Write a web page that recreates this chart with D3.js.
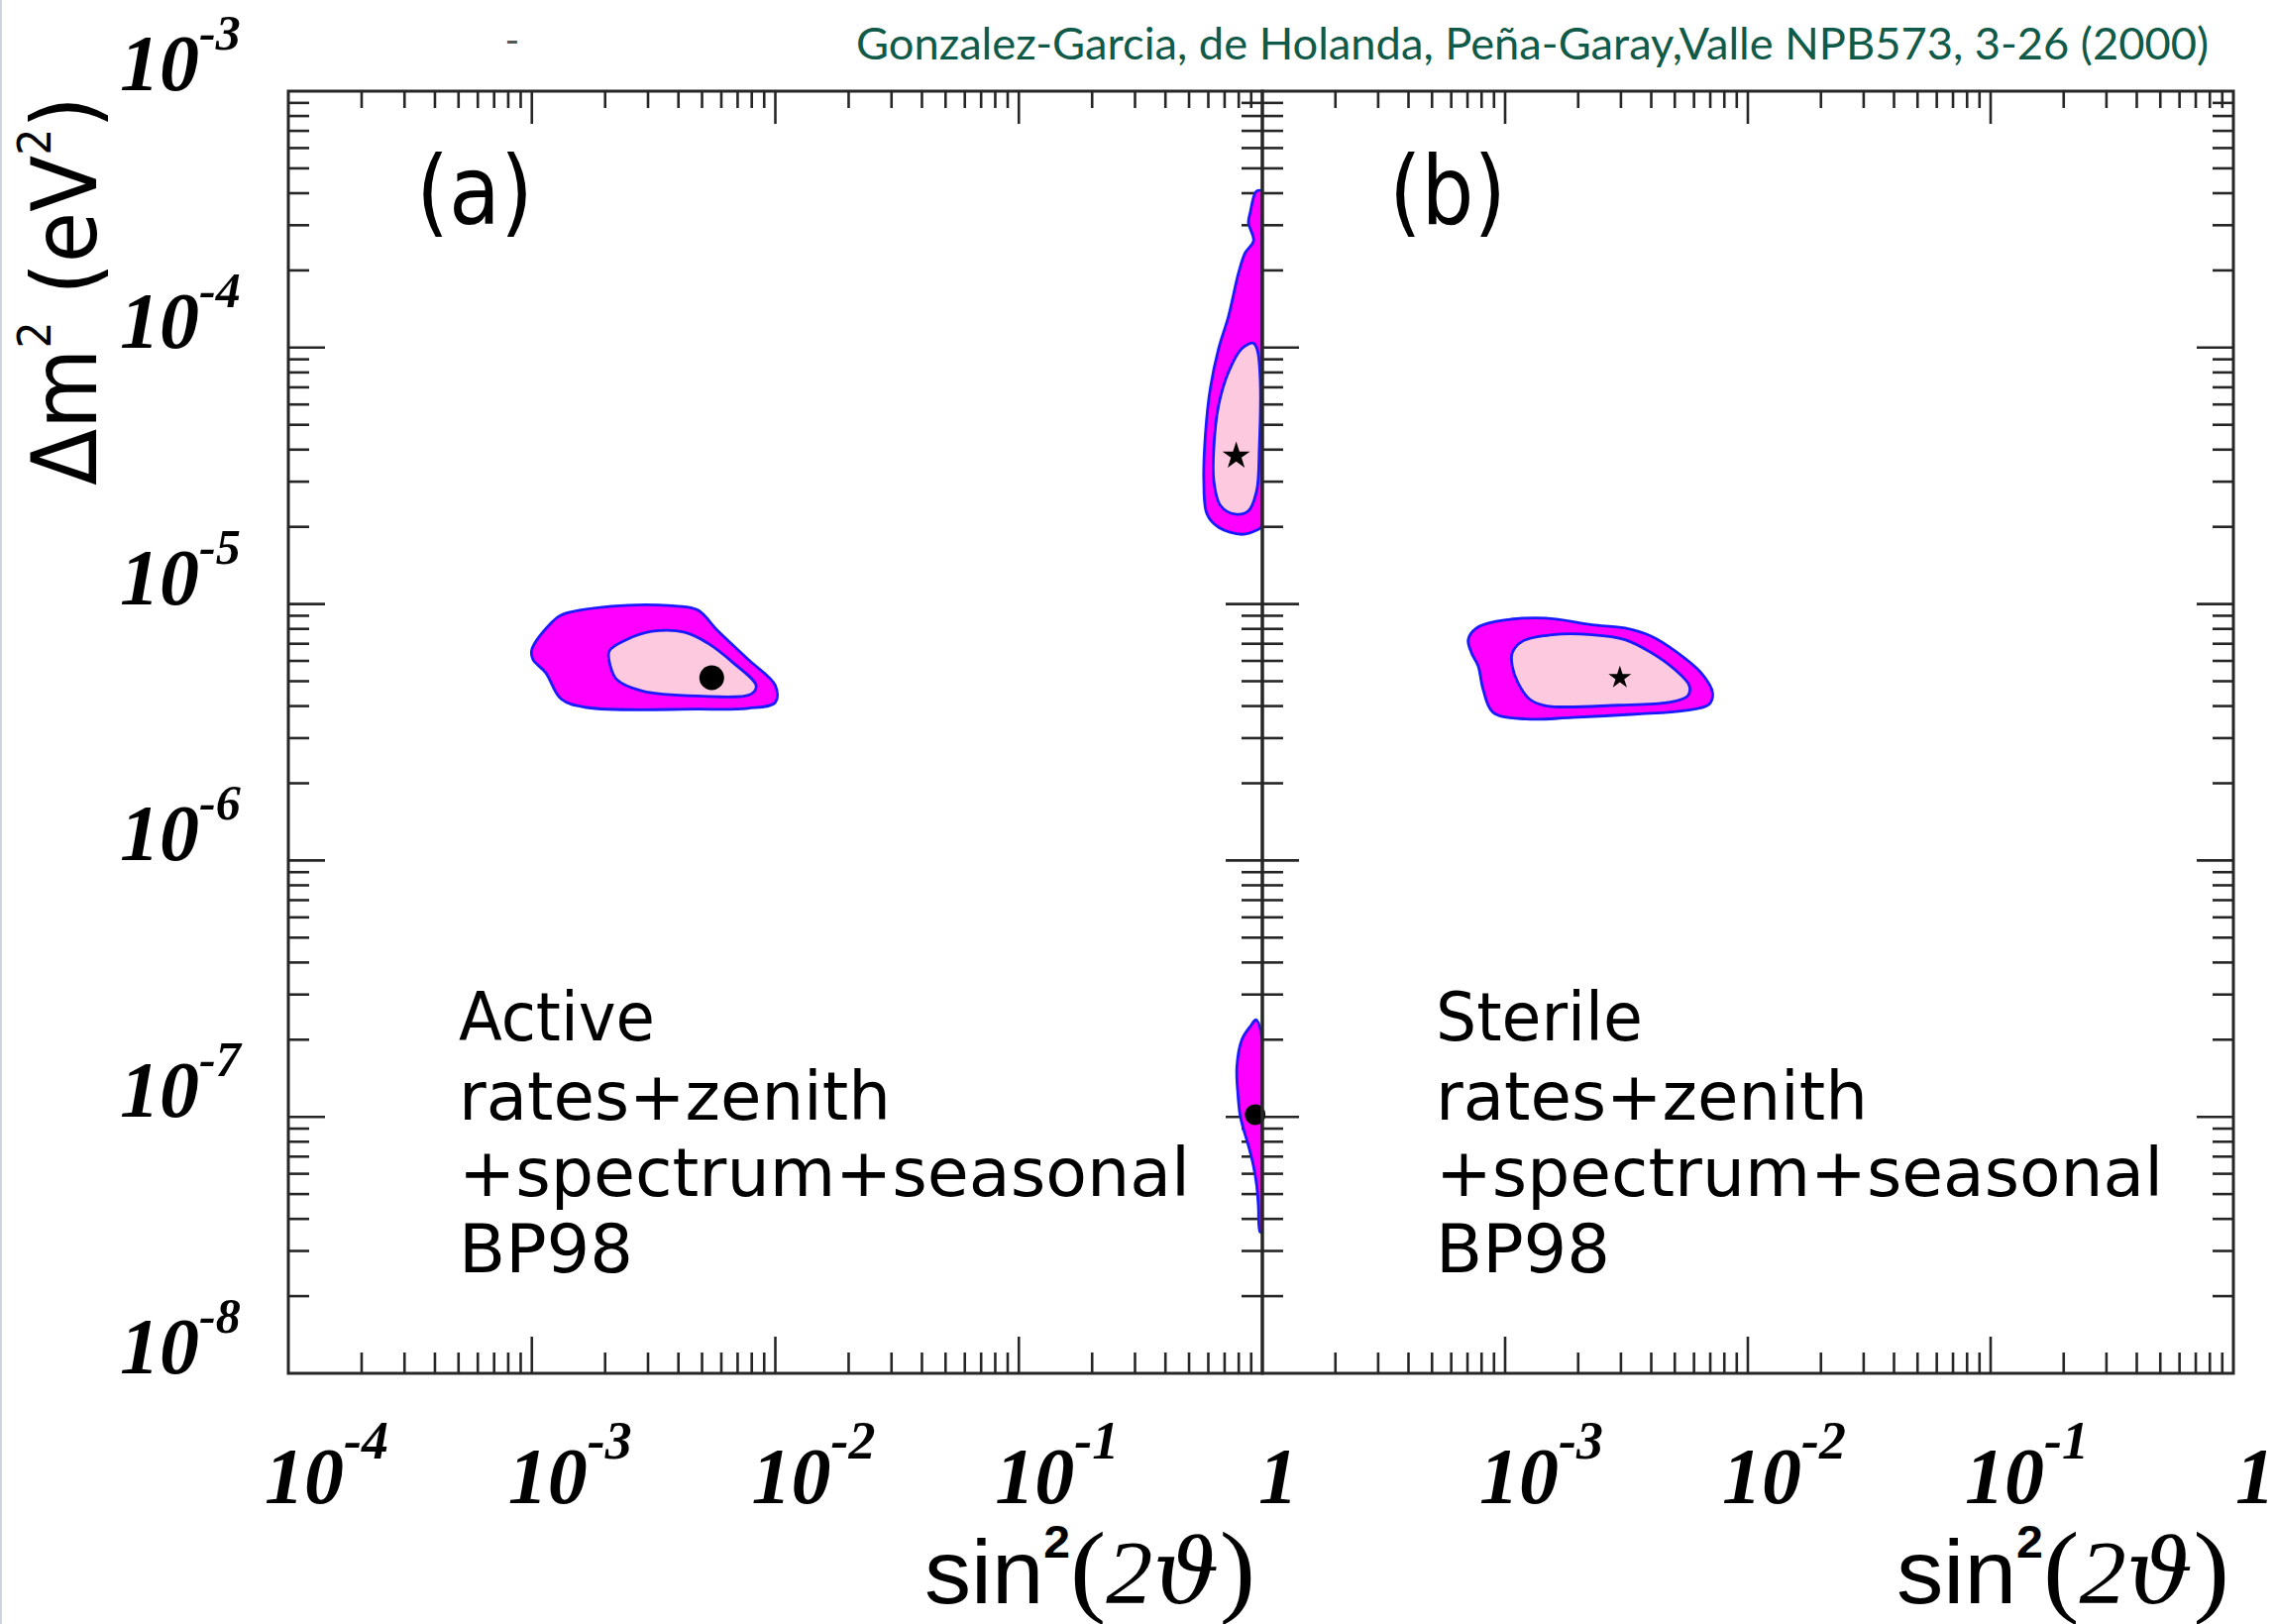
<!DOCTYPE html>
<html><head><meta charset="utf-8">
<script src="https://cdn.jsdelivr.net/npm/d3@7"></script>
<style>html,body{margin:0;padding:0;background:#fff;} svg{display:block}</style>
</head><body>
<script>
// ---------------- DATA ----------------
const panels = ["a", "b"];
const panelTags = ["(a)", "(b)"];
const legendActive = ["Active", "rates+zenith", "+spectrum+seasonal", "BP98"];
const legendSterile = ["Sterile", "rates+zenith", "+spectrum+seasonal", "BP98"];
const header = "Gonzalez-Garcia, de Holanda, Peña-Garay,Valle NPB573, 3-26 (2000)";

const xDomain = [1e-4, 1];
const yDomain = [1e-8, 1e-3];
// tick labels : [value, base, exponent]
const xTickLabelsA = [[1e-4, "10", "-4"], [1e-3, "10", "-3"], [1e-2, "10", "-2"], [1e-1, "10", "-1"], [1, "1", ""]];
const xTickLabelsB = [[1e-3, "10", "-3"], [1e-2, "10", "-2"], [1e-1, "10", "-1"], [1, "1", ""]];
const yTickLabels = [[1e-3, "10", "-3"], [1e-4, "10", "-4"], [1e-5, "10", "-5"], [1e-6, "10", "-6"], [1e-7, "10", "-7"], [1e-8, "10", "-8"]];

// allowed regions [sin^2(2theta), dm^2]
// (a) active, small-mixing solution
const smaActiveOuter = [[1.00e-3,6.64e-6],[1.20e-3,8.43e-6],[1.32e-3,9.06e-6],[2.12e-3,9.80e-6],[3.78e-3,9.84e-6],[4.79e-3,9.48e-6],[5.81e-3,7.85e-6],[7.73e-3,6.08e-6],[1.00e-2,4.81e-6],[1.00e-2,4.13e-6],[7.73e-3,3.92e-6],[4.79e-3,3.89e-6],[1.68e-3,3.95e-6],[1.32e-3,4.26e-6],[1.14e-3,5.40e-6],[1.01e-3,6.08e-6]];
const smaActiveInner = [[2.08e-3,6.55e-6],[2.45e-3,7.26e-6],[3.11e-3,7.82e-6],[4.25e-3,7.76e-6],[5.26e-3,7.05e-6],[6.71e-3,5.90e-6],[8.34e-3,4.80e-6],[7.93e-3,4.45e-6],[4.79e-3,4.38e-6],[2.84e-3,4.58e-6],[2.23e-3,5.08e-6],[2.10e-3,5.74e-6]];
const smaActiveBest = [5.48e-3, 5.16e-6];
// (a) active, large-mixing solution
const lmaOuter = [[1.0,4.07e-4],[0.945,4.07e-4],[0.891,3.35e-4],[0.877,3.07e-4],[0.92,2.61e-4],[0.850,2.34e-4],[0.799,1.96e-4],[0.727,1.33e-4],[0.662,9.95e-5],[0.612,6.97e-5],[0.585,4.72e-5],[0.575,3.02e-5],[0.593,2.24e-5],[0.662,1.99e-5],[0.824,1.87e-5],[0.948,1.94e-5],[1.0,2.02e-5],[1.0,3.0e-5],[1.0,1.0e-4],[1.0,3.0e-4]];
const lmaInner = [[0.919,1.04e-4],[0.824,9.92e-5],[0.727,8.05e-5],[0.662,5.98e-5],[0.632,4.07e-5],[0.632,3.02e-5],[0.673,2.42e-5],[0.774,2.24e-5],[0.877,2.31e-5],[0.948,2.77e-5],[0.972,4.07e-5],[0.981,7.36e-5],[0.954,9.77e-5]];
const lmaBest = [0.781, 3.78e-5];
// (a) active, low-dm^2 solution
const lowOuter = [[0.943,2.39e-7],[0.891,2.25e-7],[0.824,2.00e-7],[0.786,1.57e-7],[0.793,1.24e-7],[0.811,1.01e-7],[0.837,8.95e-8],[0.877,7.71e-8],[0.919,6.45e-8],[0.948,5.41e-8],[0.963,4.52e-8],[0.979,3.56e-8],[1.0,3.56e-8],[1.0,1.0e-7],[1.0,2.0e-7]];
const lowBest = [0.934, 1.02e-7];
// (b) sterile, small-mixing solution
const smaSterileOuter = [[7.05e-4,7.26e-6],[7.62e-4,8.05e-6],[9.19e-4,8.55e-6],[1.47e-3,8.81e-6],[2.28e-3,8.30e-6],[3.12e-3,8.05e-6],[4.01e-3,7.48e-6],[5.14e-3,6.45e-6],[6.41e-3,5.40e-6],[7.15e-3,4.52e-6],[6.93e-3,4.07e-6],[5.48e-3,3.84e-6],[3.43e-3,3.72e-6],[1.89e-3,3.61e-6],[1.22e-3,3.56e-6],[8.91e-4,3.78e-6],[8.11e-4,4.66e-6],[7.75e-4,5.73e-6],[7.27e-4,6.45e-6]];
const smaSterileInner = [[1.07e-3,6.45e-6],[1.18e-3,7.16e-6],[1.57e-3,7.59e-6],[2.28e-3,7.59e-6],[3.12e-3,7.26e-6],[4.01e-3,6.45e-6],[4.99e-3,5.56e-6],[5.74e-3,4.80e-6],[5.65e-3,4.38e-6],[4.69e-3,4.13e-6],[2.93e-3,4.03e-6],[1.47e-3,4.01e-6],[1.26e-3,4.26e-6],[1.13e-3,4.93e-6],[1.07e-3,5.73e-6]];
const smaSterileBest = [2.97e-3, 5.16e-6];

// ---------------- LAYOUT ----------------
const W = 2296, H = 1639;
const TOP = 92, BOT = 1386;
const panelX = {a: [291, 1274], b: [1274, 2254]};
const C_MAG = "#ff00ff", C_PINK = "#fdc9df", C_BLUE = "#1a1aff", C_AX = "#262626";

const svg = d3.select("body").append("svg").attr("width", W).attr("height", H);
svg.append("rect").attr("width", W).attr("height", H).attr("fill", "#fff");
svg.append("rect").attr("x", 0).attr("y", 0).attr("width", 2).attr("height", H).attr("fill", "#d0d4dc");

const y = d3.scaleLog().domain(yDomain).range([BOT, TOP]);
const xs = {};
panels.forEach(p => xs[p] = d3.scaleLog().domain(xDomain).range(panelX[p]));
const isMajor = t => Math.abs(Math.log10(t) - Math.round(Math.log10(t))) < 1e-9;

const defs = svg.append("defs");
panels.forEach(p => {
  defs.append("clipPath").attr("id", "clip-" + p).append("rect")
    .attr("x", panelX[p][0]).attr("y", TOP).attr("width", panelX[p][1] - panelX[p][0]).attr("height", BOT - TOP);
});

// ---------------- TICKS ----------------
const tickG = svg.append("g").attr("stroke", C_AX).attr("stroke-width", 2.6);
panels.forEach(p => {
  const x = xs[p];
  const [x0, x1] = panelX[p];
  x.ticks().filter(t => t > xDomain[0] * 1.001 && t < xDomain[1] * 0.999).forEach(t => {
    const m = isMajor(t);
    const px = x(t);
    tickG.append("line").attr("x1", px).attr("x2", px).attr("y1", BOT).attr("y2", BOT - (m ? 37 : 21));
    tickG.append("line").attr("x1", px).attr("x2", px).attr("y1", TOP).attr("y2", TOP + (m ? 33 : 17));
  });
  y.ticks().filter(t => t > yDomain[0] * 1.001 && t < yDomain[1] * 0.999).forEach(t => {
    const m = isMajor(t);
    const py = y(t);
    tickG.append("line").attr("x1", x0).attr("x2", x0 + (m ? 37 : 21)).attr("y1", py).attr("y2", py);
    tickG.append("line").attr("x1", x1).attr("x2", x1 - (m ? 37 : 21)).attr("y1", py).attr("y2", py);
  });
});

// ---------------- REGIONS ----------------
function region(p, pts, fill) {
  const x = xs[p];
  const line = d3.line().x(d => x(d[0])).y(d => y(d[1])).curve(d3.curveCatmullRomClosed.alpha(0.5));
  svg.append("path").attr("clip-path", "url(#clip-" + p + ")")
    .attr("d", line(pts)).attr("fill", fill).attr("stroke", C_BLUE).attr("stroke-width", 2.8)
    .attr("stroke-linejoin", "round");
}
region("a", smaActiveOuter, C_MAG);
region("a", smaActiveInner, C_PINK);
region("a", lmaOuter, C_MAG);
region("a", lmaInner, C_PINK);
region("a", lowOuter, C_MAG);
region("b", smaSterileOuter, C_MAG);
region("b", smaSterileInner, C_PINK);

function dot(p, d, r) {
  svg.append("circle").attr("cx", xs[p](d[0])).attr("cy", y(d[1])).attr("r", r).attr("fill", "#000");
}
function star(p, d, size) {
  svg.append("path").attr("transform", `translate(${xs[p](d[0])},${y(d[1])})`)
    .attr("d", d3.symbol(d3.symbolStar, size)()).attr("fill", "#000");
}
dot("a", smaActiveBest, 12.5);
dot("a", lowBest, 10.5);
star("a", lmaBest, 240);
star("b", smaSterileBest, 165);

// ---------------- FRAMES ----------------
panels.forEach(p => {
  const [x0, x1] = panelX[p];
  svg.append("rect").attr("x", x0).attr("y", TOP).attr("width", x1 - x0).attr("height", BOT - TOP)
    .attr("fill", "none").attr("stroke", C_AX).attr("stroke-width", 3);
});

// ---------------- TICK LABELS ----------------
const serifBI = "'Liberation Serif','Times New Roman',serif";
function powLabel(xPos, yPos, base, exp, supSize, supDy) {
  const t = svg.append("text").attr("x", xPos).attr("y", yPos)
    .attr("font-family", serifBI).attr("font-weight", "bold").attr("font-style", "italic")
    .attr("font-size", 80).attr("fill", "#000");
  t.append("tspan").text(base);
  if (exp) t.append("tspan").attr("font-size", supSize).attr("dy", supDy).text(exp);
}
xTickLabelsA.forEach(([v, b, e]) => powLabel(xs.a(v) + (e ? -24 : -4), 1517, b, e, 54, -45));
xTickLabelsB.forEach(([v, b, e]) => powLabel(xs.b(v) + (e ? -26 : 2), 1517, b, e, 54, -45));
yTickLabels.forEach(([v, b, e]) => powLabel(121, y(v) + (v === 1e-3 ? -1 : 0), b, e, 50, -41));

// ---------------- AXIS TITLES ----------------
function xTitle(xPos, width) {
  const g = svg.append("g").attr("transform", `translate(${xPos},1618)`);
  const t = g.append("text").attr("x", 0).attr("y", 0).attr("fill", "#000").attr("font-size", 90);
  t.append("tspan").attr("font-family", "'Liberation Sans',Arial,sans-serif").text("sin");
  t.append("tspan").attr("font-family", "'Liberation Sans',Arial,sans-serif").attr("font-weight", "bold")
    .attr("font-size", 46).attr("dy", -46).text("2");
  t.append("tspan").attr("font-family", "'Liberation Serif',serif").attr("font-size", 104).attr("dy", 46).text("(");
  t.append("tspan").attr("font-family", "'Liberation Serif',serif").attr("font-style", "italic").text("2");
  t.append("tspan").attr("font-family", "'DejaVu Serif',serif").attr("font-style", "italic").text("ϑ");
  t.append("tspan").attr("font-family", "'Liberation Serif',serif").attr("font-size", 104).text(")");
  const w = t.node().getComputedTextLength();
  t.attr("transform", `scale(${width / w},1)`);
}
xTitle(933, 334);
xTitle(1914, 336);

(function yTitle() {
  const g = svg.append("g").attr("transform", "translate(97,490) rotate(-90)");
  const t = g.append("text").attr("x", 0).attr("y", 0).attr("fill", "#000")
    .attr("font-family", "'DejaVu Sans',sans-serif").attr("font-size", 90);
  t.append("tspan").text("Δm");
  t.append("tspan").attr("font-size", 46).attr("dy", -46).text("2");
  t.append("tspan").attr("dy", 46).text(" (eV");
  t.append("tspan").attr("font-size", 46).attr("dy", -46).text("2");
  t.append("tspan").attr("dy", 46).text(")");
  const w = t.node().getComputedTextLength();
  t.attr("transform", `scale(${393 / w},1)`);
})();

// ---------------- PANEL TAGS & LEGENDS ----------------
const tagX = {a: 420, b: 1402};
panels.forEach((p, i) => {
  svg.append("text").attr("x", tagX[p]).attr("y", 226)
    .attr("font-family", "'DejaVu Sans',sans-serif").attr("font-size", 96).attr("fill", "#000")
    .attr("textLength", 118).attr("lengthAdjust", "spacingAndGlyphs").text(panelTags[i]);
});
const legendLineY = [1050, 1130, 1207, 1284];
const legendWidthsA = [198, 436, 738, 176];
const legendWidthsB = [209, 436, 734, 176];
function legend(x0, lines, widths) {
  lines.forEach((s, i) => {
    svg.append("text").attr("x", x0).attr("y", legendLineY[i])
      .attr("font-family", "'DejaVu Sans',sans-serif").attr("font-size", 68).attr("fill", "#000")
      .attr("textLength", widths[i]).attr("lengthAdjust", "spacingAndGlyphs").text(s);
  });
}
legend(463, legendActive, legendWidthsA);
legend(1449, legendSterile, legendWidthsB);

// ---------------- HEADER ----------------
svg.append("text").attr("x", 864).attr("y", 60)
  .attr("font-family", "Lato,'Open Sans',sans-serif").attr("font-size", 45).attr("fill", "#0f5a48")
  .attr("textLength", 1365).attr("lengthAdjust", "spacingAndGlyphs").text(header);
svg.append("text").attr("x", 517).attr("y", 55).attr("text-anchor", "middle")
  .attr("font-family", "Lato,sans-serif").attr("font-size", 40).attr("fill", "#555").text("-");
</script>
</body></html>
